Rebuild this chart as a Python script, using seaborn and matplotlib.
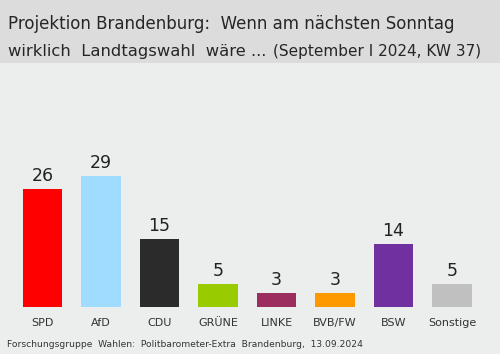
import matplotlib
matplotlib.use("Agg")
import matplotlib.pyplot as plt
import seaborn as sns
import pandas as pd
from matplotlib.patches import Rectangle

parties = ["SPD", "AfD", "CDU", "GRÜNE", "LINKE", "BVB/FW", "BSW", "Sonstige"]
values = [26, 29, 15, 5, 3, 3, 14, 5]
colors = ["#ff0000", "#a0dcff", "#2b2b2b", "#99cc00", "#9b2d5f", "#ff9900", "#7030a0", "#c0c0c0"]

title1 = "Projektion Brandenburg:  Wenn am nächsten Sonntag"
title2 = "wirklich  Landtagswahl  wäre ..."
title2b = "(September I 2024, KW 37)"
footer = "Forschungsgruppe  Wahlen:  Politbarometer-Extra  Brandenburg,  13.09.2024"

sns.set_theme(style="white")
plt.rcParams['font.family'] = ['DejaVu Sans']

W, H = 500, 354
fig = plt.figure(figsize=(W / 100, H / 100), dpi=100)
fig.patch.set_facecolor("#ebeeed")
fig.add_artist(Rectangle((0, 1 - 63 / H), 1, 63 / H, transform=fig.transFigure,
                         facecolor="#dcdcdc", edgecolor="none", zorder=0))

ax_bottom = 307
ax_top = 63
ax = fig.add_axes([0, (H - ax_bottom) / H, 1, (ax_bottom - ax_top) / H])
ax.set_facecolor("none")
df = pd.DataFrame({"party": parties, "value": values})
sns.barplot(data=df, x="party", y="value", hue="party", palette=colors,
            width=0.667, saturation=1, legend=False, ax=ax, linewidth=0)
pitch = 58.5
c0 = 42.5
ax.set_xlim(-c0 / pitch, (W - c0) / pitch)
ax.set_ylim(0, (ax_bottom - ax_top) / 4.53)
for i, v in enumerate(values):
    ax.text(i, v + 0.9, str(v), ha="center", va="bottom", fontsize=12.5, color="#222222")
ax.set_xticks(range(len(parties)))
ax.set_xticklabels(parties, fontsize=8, color="#333333")
ax.tick_params(axis="x", length=0, pad=8)
ax.set_yticks([])
ax.set_xlabel("")
ax.set_ylabel("")
for s in ax.spines.values():
    s.set_visible(False)

fig.text(8 / W, 1 - 29 / H, title1, fontsize=12.0, color="#262626", va="baseline", ha="left")
fig.text(8 / W, 1 - 56 / H, title2, fontsize=11.8, color="#262626", va="baseline", ha="left")
fig.text(273 / W, 1 - 56 / H, title2b, fontsize=11.0, color="#262626", va="baseline", ha="left")
fig.text(7 / W, 1 - 347 / H, footer, fontsize=6.6, color="#333333", va="baseline", ha="left")

fig.savefig("out.png", dpi=100, facecolor=fig.get_facecolor())
